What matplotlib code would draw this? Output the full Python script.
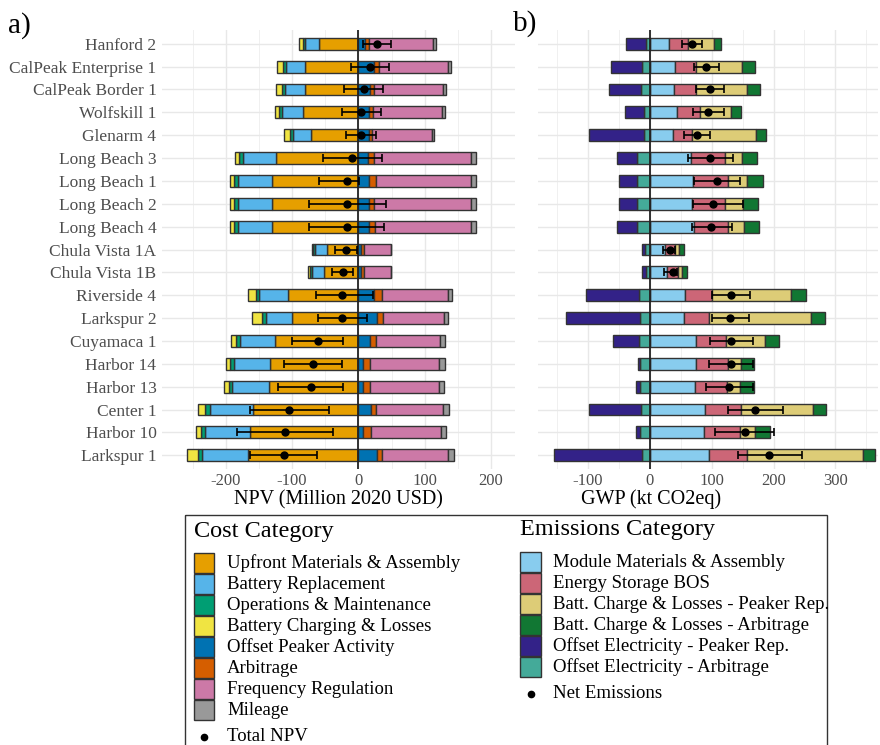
import matplotlib
matplotlib.use("Agg")
import matplotlib.pyplot as plt
import numpy as np
from matplotlib.patches import Rectangle
from matplotlib.ticker import MultipleLocator

plt.rcParams['font.family'] = ['Liberation Serif', 'DejaVu Serif']
plt.rcParams['axes.unicode_minus'] = False

sites = ["Hanford 2", "CalPeak Enterprise 1", "CalPeak Border 1", "Wolfskill 1", "Glenarm 4",
         "Long Beach 3", "Long Beach 1", "Long Beach 2", "Long Beach 4", "Chula Vista 1A",
         "Chula Vista 1B", "Riverside 4", "Larkspur 2", "Cuyamaca 1", "Harbor 14",
         "Harbor 13", "Center 1", "Harbor 10", "Larkspur 1"]

# ---- Panel a: NPV (Million 2020 USD) ----
upfront = [-59.8, -79.9, -80.4, -82.9, -71.9, -124.6, -129.6, -129.6, -129.6, -47.7,
           -51.3, -105.5, -100.5, -126.1, -133.2, -134.7, -158.3, -163.3, -165.8]
battery_repl = [-20.6, -29.6, -30.2, -32.2, -26.1, -49.7, -51.3, -51.3, -51.3, -17.6,
                -19.1, -43.7, -39.2, -52.8, -54.3, -55.3, -65.3, -68.3, -69.3]
om = [-3.5, -4.5, -5.0, -4.0, -5.0, -5.5, -6.0, -6.0, -6.0, -2.5,
      -2.5, -5.0, -5.5, -5.0, -6.0, -5.0, -7.0, -5.0, -6.0]
charging = [-5.5, -8.0, -8.5, -7.0, -8.5, -6.0, -6.5, -6.5, -6.5, -2.5,
            -2.5, -11.6, -15.1, -8.5, -6.0, -7.0, -10.6, -7.5, -16.6]
peaker = [10.0, 23.6, 17.6, 15.6, 16.1, 15.1, 16.6, 16.1, 16.1, 3.5,
          3.5, 23.6, 27.6, 18.1, 6.5, 6.5, 19.1, 7.5, 28.6]
arbitrage = [6.0, 8.0, 6.5, 7.0, 4.0, 8.5, 9.5, 8.0, 9.0, 5.0,
             5.0, 11.6, 9.0, 8.0, 11.6, 10.6, 7.5, 11.6, 6.5]
freq_reg = [97.0, 103.0, 103.0, 103.0, 90.5, 145.7, 143.2, 145.2, 144.2, 40.2,
            40.2, 100.5, 93.0, 97.0, 104.0, 104.5, 101.5, 105.0, 100.5]
mileage = [4.0, 4.5, 4.5, 4.5, 4.0, 7.5, 7.5, 7.5, 7.5, 1.0,
           1.0, 6.0, 6.0, 7.5, 8.0, 7.5, 8.5, 8.5, 9.0]
total_npv = [28.6, 17.6, 8.0, 3.5, 3.5, -9.5, -16.6, -16.6, -17.6, -19.1,
             -23.6, -24.6, -24.6, -61.3, -68.8, -71.9, -104.5, -110.6, -112.1]
npv_lo = [6.5, -11.6, -21.6, -25.1, -19.1, -53.3, -59.3, -74.9, -73.9, -35.7,
          -39.2, -64.3, -61.3, -100.5, -111.6, -120.6, -163.8, -183.4, -162.8]
npv_hi = [49.2, 46.2, 37.7, 33.7, 26.6, 35.7, 1.0, 41.2, 38.7, -2.5,
          -8.5, 22.6, 12.6, -22.6, -25.1, -22.6, -44.2, -37.7, -61.8]

cost_labels = ["Upfront Materials & Assembly", "Battery Replacement", "Operations & Maintenance",
               "Battery Charging & Losses", "Offset Peaker Activity", "Arbitrage",
               "Frequency Regulation", "Mileage"]
cost_colors = ["#E69F00", "#56B4E9", "#009E73", "#F0E442", "#0072B2", "#D55E00",
               "#CC79A7", "#999999"]

# ---- Panel b: GWP (kt CO2eq) ----
module = [31.4, 40.5, 39.5, 43.8, 36.8, 66.5, 70.3, 68.1, 71.9, 23.8,
          27.0, 56.8, 55.1, 74.1, 74.1, 73.0, 88.6, 87.6, 96.2]
bos = [29.7, 34.1, 35.1, 37.3, 31.9, 54.6, 55.7, 53.0, 54.6, 17.3,
       18.9, 43.2, 41.1, 48.6, 51.9, 52.4, 58.4, 58.4, 61.6]
charge_peaker = [42.7, 75.1, 82.7, 50.8, 102.7, 28.1, 31.4, 30.3, 25.9, 5.9,
                 5.4, 128.1, 164.3, 63.8, 21.6, 20.5, 116.8, 24.3, 186.5]
charge_arb = [11.9, 20.0, 20.5, 15.1, 16.2, 23.8, 24.9, 23.8, 24.3, 7.6,
              8.1, 24.9, 22.2, 22.7, 21.1, 22.2, 21.6, 23.2, 19.5]
offset_peaker = [-31.9, -49.7, -50.8, -30.3, -88.6, -31.9, -28.6, -29.7, -32.4, -5.4,
                 -5.9, -86.5, -118.9, -42.2, -3.8, -4.9, -83.8, -6.5, -142.2]
offset_arb = [-7.0, -13.5, -14.6, -10.3, -10.3, -21.1, -21.6, -20.5, -21.6, -7.6,
              -7.0, -17.3, -16.2, -17.3, -15.7, -16.8, -15.1, -16.2, -13.5]
net = [67.6, 91.4, 96.8, 94.6, 76.2, 97.8, 108.6, 102.7, 98.9, 32.4,
       36.8, 130.8, 129.7, 131.9, 131.4, 128.1, 169.7, 153.5, 193.0]
net_lo = [52.4, 70.8, 74.6, 70.3, 55.7, 62.2, 71.4, 69.2, 68.1, 20.5,
          22.7, 100.5, 100.0, 97.3, 96.2, 90.8, 126.0, 105.4, 142.7]
net_hi = [83.8, 112.4, 119.5, 119.5, 97.3, 134.1, 146.0, 150.3, 133.5, 40.5,
          43.2, 162.2, 161.1, 166.0, 167.6, 166.0, 214.6, 200.0, 246.0]

em_labels = ["Module Materials & Assembly", "Energy Storage BOS",
             "Batt. Charge & Losses - Peaker Rep.", "Batt. Charge & Losses - Arbitrage",
             "Offset Electricity - Peaker Rep.", "Offset Electricity - Arbitrage"]
em_colors = ["#88CCEE", "#CC6677", "#DDCC77", "#117733", "#332288", "#44AA99"]

W, H = 880, 745
fig = plt.figure(figsize=(W / 100, H / 100), dpi=100)


def fax(x0, y0, x1, y1):
    return fig.add_axes([x0 / W, 1 - y1 / H, (x1 - x0) / W, (y1 - y0) / H])


n = len(sites)
ypos = np.arange(n)[::-1].astype(float)
BAR_H = 0.52
EDGE = "#333333"


def stack(ax, series, colors):
    neg = np.zeros(n)
    pos = np.zeros(n)
    for vals, col in zip(series, colors):
        v = np.array(vals, dtype=float)
        left = np.where(v < 0, neg, pos)
        ax.barh(ypos, v, left=left, height=BAR_H, color=col, edgecolor=EDGE,
                linewidth=1.0, zorder=2)
        neg = np.where(v < 0, neg + v, neg)
        pos = np.where(v >= 0, pos + v, pos)


def style(ax, xlim, major, minor):
    ax.set_xlim(*xlim)
    ax.set_ylim(-0.6, n - 0.4)
    ax.xaxis.set_major_locator(MultipleLocator(major))
    ax.xaxis.set_minor_locator(MultipleLocator(minor))
    ax.grid(True, which='major', color='#E8E8E8', linewidth=1.0, zorder=0)
    ax.grid(True, which='minor', axis='x', color='#F0F0F0', linewidth=0.7, zorder=0)
    ax.set_axisbelow(True)
    for s in ax.spines.values():
        s.set_visible(False)
    ax.tick_params(axis='x', which='both', length=0, labelsize=12,
                   labelcolor='#4D4D4D', pad=3)
    ax.tick_params(axis='y', which='both', length=0, labelsize=12.5,
                   labelcolor='#4D4D4D', pad=4)
    ax.axvline(0, color='#222222', linewidth=1.3, zorder=3)


# Panel a
axa = fax(162, 30, 515, 469)
stack(axa, [upfront, battery_repl, om, charging, peaker, arbitrage, freq_reg, mileage],
      cost_colors)
style(axa, (-296, 236), 100, 50)
axa.set_yticks(ypos)
axa.set_yticklabels(sites)
tn = np.array(total_npv)
axa.errorbar(tn, ypos, xerr=[tn - np.array(npv_lo), np.array(npv_hi) - tn], fmt='o',
             color='black', ms=5, capsize=2.8, elinewidth=1.2, capthick=1.2, zorder=4)
axa.set_xlabel("NPV (Million 2020 USD)", fontsize=14.5, labelpad=1)

# Panel b
axb = fax(538, 30, 878, 469)
stack(axb, [module, bos, charge_peaker, charge_arb, offset_arb, offset_peaker],
      [em_colors[0], em_colors[1], em_colors[2], em_colors[3], em_colors[5], em_colors[4]])
style(axb, (-181, 369), 100, 50)
axb.set_yticks(ypos)
axb.set_yticklabels([])
nt = np.array(net)
axb.errorbar(nt, ypos, xerr=[nt - np.array(net_lo), np.array(net_hi) - nt], fmt='o',
             color='black', ms=5, capsize=2.8, elinewidth=1.2, capthick=1.2, zorder=4)
axb.set_xlabel("GWP (kt CO2eq)", fontsize=14.5, labelpad=1)
axb.xaxis.set_label_coords((651 - 538) / 340, -0.047)

fig.text(8 / W, 1 - 26 / H, "a)", fontsize=21, va='center', ha='left')
fig.text(513 / W, 1 - 24 / H, "b)", fontsize=21, va='center', ha='left')

# Legend (drawn in a pixel-coordinate overlay)
lg = fig.add_axes([0, 0, 1, 1])
lg.set_xlim(0, W)
lg.set_ylim(H, 0)
lg.axis('off')
lg.patch.set_visible(False)
lg.add_patch(Rectangle((185, 515), 642, 240, fill=False, edgecolor='#333333', linewidth=1.0))

lg.text(194, 531, "Cost Category", fontsize=17.5, va='center', ha='left')
for k, (lab, col) in enumerate(zip(cost_labels, cost_colors)):
    yc = 563.3 + 21 * k
    lg.add_patch(Rectangle((194, yc - 10), 20, 20, facecolor=col, edgecolor='#333333',
                           linewidth=1.0))
    lg.text(227, yc, lab, fontsize=13.5, va='center', ha='left')
lg.plot([203.5], [736.5], 'o', color='black', ms=4.5)
lg.text(227, 736.5, "Total NPV", fontsize=13.5, va='center', ha='left')

lg.text(520, 529, "Emissions Category", fontsize=17.5, va='center', ha='left')
for k, (lab, col) in enumerate(zip(em_labels, em_colors)):
    yc = 562.3 + 21 * k
    lg.add_patch(Rectangle((520, yc - 10), 20.5, 20, facecolor=col, edgecolor='#333333',
                           linewidth=1.0))
    lg.text(553, yc, lab, fontsize=13.5, va='center', ha='left')
lg.plot([530.5], [694], 'o', color='black', ms=4.5)
lg.text(553, 694, "Net Emissions", fontsize=13.5, va='center', ha='left')

fig.savefig("out.png", dpi=100)
